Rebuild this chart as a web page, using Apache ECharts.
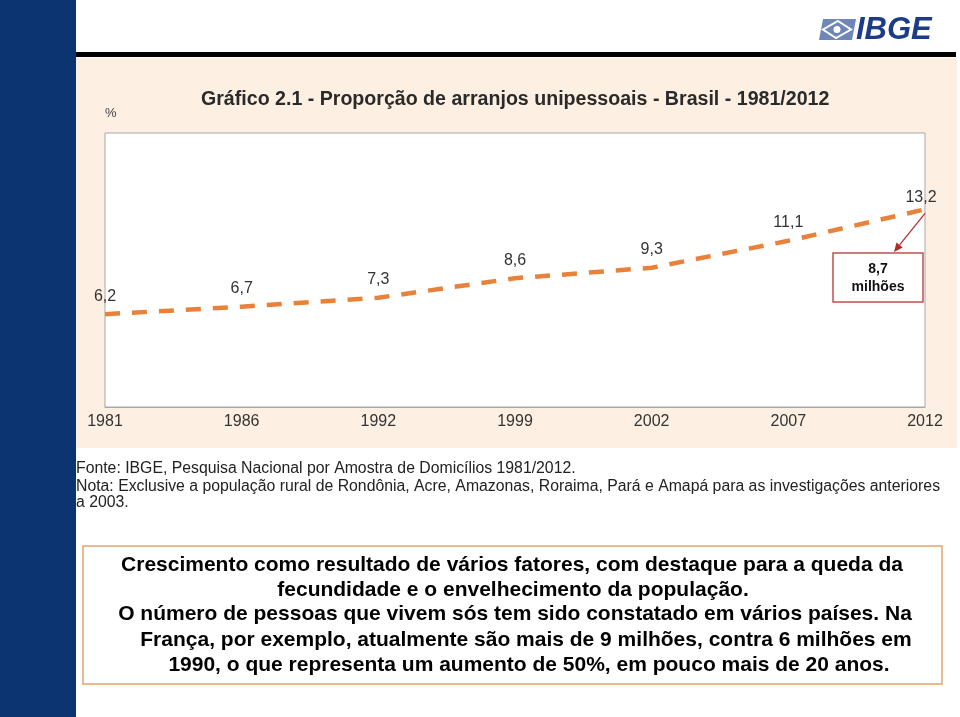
<!DOCTYPE html>
<html>
<head>
<meta charset="utf-8">
<script src="https://cdn.jsdelivr.net/npm/echarts@6/dist/echarts.min.js"></script>
<style>
html,body{margin:0;padding:0;background:#fff;}
#c{width:960px;height:717px;}
</style>
</head>
<body>
<div id="c"></div>
<script>
var years = ['1981','1986','1992','1999','2002','2007','2012'];
var proportion = [6.2, 6.7, 7.3, 8.6, 9.3, 11.1, 13.2];
var chartTitle = 'Gráfico 2.1 - Proporção de arranjos unipessoais - Brasil - 1981/2012';
var unitLabel = '%';
var calloutLines = ['8,7', 'milhões'];
var sourceLines = [
  'Fonte: IBGE, Pesquisa Nacional por Amostra de Domicílios 1981/2012.',
  'Nota: Exclusive a população rural de Rondônia, Acre, Amazonas, Roraima, Pará e Amapá para as investigações anteriores',
  'a 2003.'
];
var boxLines = [
  'Crescimento como resultado de vários fatores, com destaque para a queda da',
  'fecundidade e o envelhecimento da população.',
  'O número de pessoas que vivem sós tem sido constatado em vários países. Na',
  'França, por exemplo, atualmente são mais de 9 milhões, contra 6 milhões em',
  '1990, o que representa um aumento de 50%, em pouco mais de 20 anos.'
];

var FONT = '"Liberation Sans", Arial, sans-serif';
var chart = echarts.init(document.getElementById('c'), null, {renderer: 'canvas'});

var graphics = [
  {type: 'rect', shape: {x: 0, y: 0, width: 76, height: 717}, style: {fill: '#0B3470'}, z: -10},
  {type: 'rect', shape: {x: 76, y: 58, width: 881, height: 390}, style: {fill: '#FDF0E2'}, z: -10},
  {type: 'rect', shape: {x: 76, y: 52, width: 880, height: 5}, style: {fill: '#000'}, z: -5},
  // logo
  {type: 'polygon', shape: {points: [[823,19],[856,19],[852,40],[819,40]]}, style: {fill: '#6F86B8'}},
  {type: 'polygon', shape: {points: [[838,21],[851,29.5],[836,38],[823,29.5]]}, style: {fill: 'none', stroke: '#fff', lineWidth: 2}},
  {type: 'circle', shape: {cx: 837, cy: 29.5, r: 3.5}, style: {fill: '#fff'}},
  {type: 'text', x: 856, y: 30, style: {text: 'IBGE', font: 'italic bold 31px ' + FONT, fill: '#1C3C87', verticalAlign: 'middle', align: 'left'}},
  // callout box
  {type: 'rect', shape: {x: 833, y: 253, width: 90, height: 49}, style: {fill: '#fff', stroke: '#C0504D', lineWidth: 1.5}, z: 5},
  {type: 'text', x: 878, y: 269, style: {text: calloutLines[0], font: 'bold 14px ' + FONT, fill: '#111', align: 'center', verticalAlign: 'middle'}, z: 6},
  {type: 'text', x: 878, y: 287, style: {text: calloutLines[1], font: 'bold 14px ' + FONT, fill: '#111', align: 'center', verticalAlign: 'middle'}, z: 6},
  // source notes
  {type: 'text', x: 76, y: 469, style: {text: sourceLines[0], font: '15.8px ' + FONT, fill: '#222', verticalAlign: 'middle'}},
  {type: 'text', x: 76, y: 487, style: {text: sourceLines[1], font: '15.8px ' + FONT, fill: '#222', verticalAlign: 'middle'}},
  {type: 'text', x: 76, y: 503, style: {text: sourceLines[2], font: '15.8px ' + FONT, fill: '#222', verticalAlign: 'middle'}},
  // text box
  {type: 'rect', shape: {x: 83, y: 546, width: 859, height: 138}, style: {fill: '#fff', stroke: '#E3A56B', lineWidth: 1.5}}
];
var boxCenters = [[512,565],[513,590],[515,614],[526,640],[529,665]];
boxLines.forEach(function (t, i) {
  graphics.push({type: 'text', x: boxCenters[i][0], y: boxCenters[i][1],
    style: {text: t, font: 'bold 21px ' + FONT, fill: '#000', align: 'center', verticalAlign: 'middle'}});
});

var seriesData = proportion.map(function (v, i) {
  if (i === proportion.length - 1) {
    return {value: v, label: {distance: 4, offset: [-4, 0]}};
  }
  return v;
});

chart.setOption({
  backgroundColor: '#fff',
  animation: false,
  title: {
    text: chartTitle, left: 196, top: 85,
    textStyle: {fontFamily: FONT, fontWeight: 'bold', fontSize: 19.6, color: '#2a2a2a'}
  },
  grid: {left: 105, right: 35, top: 133, bottom: 310, show: true, backgroundColor: '#fff', borderColor: '#A8A8A8', borderWidth: 1},
  xAxis: {
    type: 'category', data: years, boundaryGap: false,
    axisLine: {show: true, lineStyle: {color: '#A8A8A8', width: 1}},
    axisTick: {show: false},
    axisLabel: {fontFamily: FONT, fontSize: 16, color: '#333', margin: 7}
  },
  yAxis: {
    type: 'value', min: 0, max: 18.3,
    name: unitLabel, nameLocation: 'end', nameGap: 13,
    nameTextStyle: {fontFamily: FONT, fontSize: 13, color: '#444', align: 'left'},
    axisLine: {show: false}, axisTick: {show: false}, axisLabel: {show: false}, splitLine: {show: false}
  },
  series: [{
    type: 'line', data: seriesData, smooth: false,
    symbol: 'circle', symbolSize: 0.1,
    itemStyle: {color: 'rgba(0,0,0,0)'},
    lineStyle: {color: '#E8823A', width: 4.5, type: [15, 12]},
    label: {
      show: true, position: 'top', distance: 10,
      fontFamily: FONT, fontSize: 16, color: '#333',
      formatter: function (p) { return String(p.value).replace('.', ','); }
    }
  }],
  graphic: graphics
});

// arrow from the last data point to the callout box
var lastPt = chart.convertToPixel({seriesIndex: 0}, [years.length - 1, proportion[proportion.length - 1]]);
var sx = lastPt[0], sy = lastPt[1] + 4, ex = 894, ey = 252;
var ang = Math.atan2(ey - sy, ex - sx), L = 9, W = 4;
var bx = ex - L * Math.cos(ang), by = ey - L * Math.sin(ang);
graphics.push({type: 'line', shape: {x1: sx, y1: sy, x2: bx, y2: by}, style: {stroke: '#B02A2A', lineWidth: 1.2}, z: 7});
graphics.push({type: 'polygon', shape: {points: [[ex, ey], [bx + W * Math.sin(ang), by - W * Math.cos(ang)], [bx - W * Math.sin(ang), by + W * Math.cos(ang)]]}, style: {fill: '#B02A2A'}, z: 7});
chart.setOption({graphic: graphics});
</script>
</body>
</html>
